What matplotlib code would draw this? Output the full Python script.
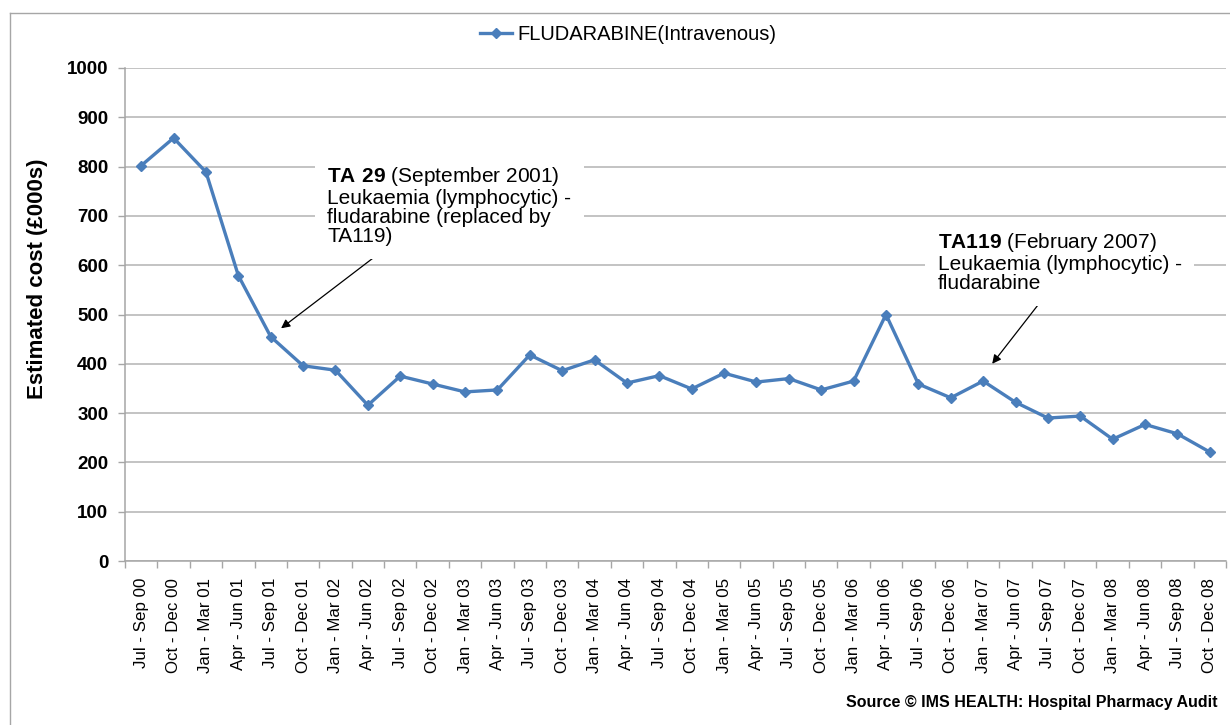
import matplotlib
matplotlib.use("Agg")
import matplotlib.pyplot as plt
from matplotlib.lines import Line2D
from matplotlib.ticker import FixedLocator

plt.rcParams['font.family'] = ['Liberation Sans', 'DejaVu Sans']
plt.rcParams['mathtext.fontset'] = 'custom'
plt.rcParams['mathtext.rm'] = 'Liberation Sans'
plt.rcParams['mathtext.bf'] = 'Liberation Sans:bold'

categories = [
    "Jul - Sep 00", "Oct - Dec 00",
    "Jan - Mar 01", "Apr - Jun 01", "Jul - Sep 01", "Oct - Dec 01",
    "Jan - Mar 02", "Apr - Jun 02", "Jul - Sep 02", "Oct - Dec 02",
    "Jan - Mar 03", "Apr - Jun 03", "Jul - Sep 03", "Oct - Dec 03",
    "Jan - Mar 04", "Apr - Jun 04", "Jul - Sep 04", "Oct - Dec 04",
    "Jan - Mar 05", "Apr - Jun 05", "Jul - Sep 05", "Oct - Dec 05",
    "Jan - Mar 06", "Apr - Jun 06", "Jul - Sep 06", "Oct - Dec 06",
    "Jan - Mar 07", "Apr - Jun 07", "Jul - Sep 07", "Oct - Dec 07",
    "Jan - Mar 08", "Apr - Jun 08", "Jul - Sep 08", "Oct - Dec 08",
]
fludarabine_iv = [802, 858, 789, 579, 455, 396, 387, 316, 375, 359,
                  343, 347, 418, 386, 408, 361, 376, 349, 381, 363,
                  370, 347, 365, 500, 359, 331, 365, 322, 290, 294,
                  247, 277, 258, 221]
series_name = "FLUDARABINE(Intravenous)"
y_ticks = [0, 100, 200, 300, 400, 500, 600, 700, 800, 900, 1000]

W, H = 1230, 725
fig = plt.figure(figsize=(W / 100, H / 100), dpi=100)
ax = fig.add_axes([125 / W, 1 - 561 / H, (1226 - 125) / W, (561 - 68) / H])

x = list(range(len(categories)))
line_color = "#4A7EBB"
ax.plot(x, fludarabine_iv, color=line_color, lw=2.4, marker='D', ms=5.5,
        mec=line_color, mfc=line_color, label=series_name, zorder=3)

ax.set_xlim(-0.5, len(categories) - 0.5)
ax.set_ylim(0, 1000)
ax.set_yticks(y_ticks)
ax.set_yticklabels([str(v) for v in y_ticks], fontsize=13.5, fontweight='bold')
ax.yaxis.grid(True, color="#B3B3B3", lw=1.1)
ax.set_axisbelow(True)

ax.set_xticks(x)
ax.set_xticklabels(categories, rotation=90, fontsize=12.2)
ax.xaxis.set_minor_locator(FixedLocator([i - 0.5 for i in range(len(categories) + 1)]))
ax.tick_params(axis='x', which='major', length=0, pad=12)
ax.tick_params(axis='x', which='minor', length=5, color="#A6A6A6", width=1)
ax.tick_params(axis='y', length=5, color="#A6A6A6", width=1, pad=7)

for s in ['top', 'right']:
    ax.spines[s].set_visible(False)
for s in ['left', 'bottom']:
    ax.spines[s].set_color("#A6A6A6")
    ax.spines[s].set_linewidth(1.1)

fig.text(38 / W, 1 - 279 / H, "Estimated cost (£000s)", rotation=90,
         ha='center', va='center', fontsize=16, fontweight='bold')

# Legend
fig.legend(loc='center', bbox_to_anchor=(628 / W, 1 - 35 / H), frameon=False,
           fontsize=14.5, handlelength=1.6, handletextpad=0.25)

# Annotations
box = dict(facecolor='white', edgecolor='none', pad=9)
ax.annotate("", xy=(4.32, 472), xytext=(7.25, 619),
            arrowprops=dict(arrowstyle='-|>', color='black', lw=0.9,
                            mutation_scale=13, shrinkA=0, shrinkB=0))
ax.text(5.74, 803,
        r"$\bf{TA\ 29}$ (September 2001)" "\n"
        "Leukaemia (lymphocytic) -\n"
        "fludarabine (replaced by\n"
        "TA119)",
        ha='left', va='top', fontsize=15, linespacing=1.03, bbox=box, zorder=4)

ax.annotate("", xy=(26.28, 400), xytext=(27.88, 535),
            arrowprops=dict(arrowstyle='-|>', color='black', lw=0.9,
                            mutation_scale=13, shrinkA=0, shrinkB=0))
ax.text(24.6, 669,
        r"$\bf{TA119}$ (February 2007)" "\n"
        "Leukaemia (lymphocytic) -\n"
        "fludarabine",
        ha='left', va='top', fontsize=15, linespacing=1.03, bbox=box, zorder=4)

fig.text(1218 / W, 1 - 703 / H, "Source © IMS HEALTH: Hospital Pharmacy Audit",
         ha='right', va='center', fontsize=11.5, fontweight='bold')

# Outer frame (left and top edges)
fc = "#A6A6A6"
fig.add_artist(Line2D([10 / W, 1.0], [1 - 13 / H, 1 - 13 / H], color=fc, lw=1))
fig.add_artist(Line2D([10 / W, 10 / W], [0.0, 1 - 13 / H], color=fc, lw=1))

fig.savefig("out.png", dpi=100)
